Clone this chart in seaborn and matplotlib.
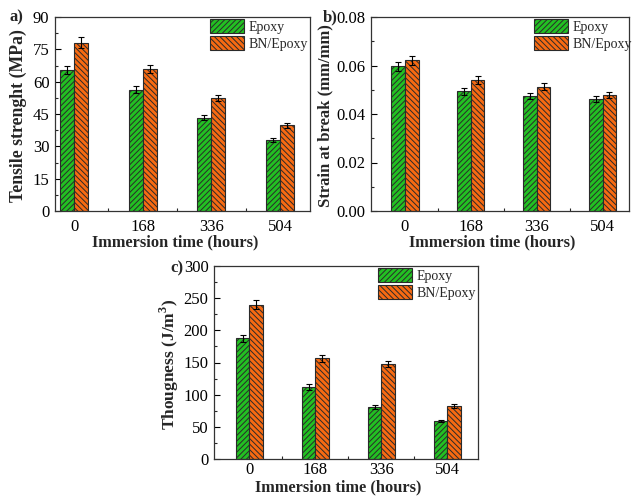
import numpy as np
import pandas as pd
import matplotlib
matplotlib.use("Agg")
import matplotlib.pyplot as plt
from matplotlib.ticker import MultipleLocator, FixedLocator, FormatStrFormatter
import seaborn as sns

# ---------------- data ----------------
times = ["0", "168", "336", "504"]
series_names = ["Epoxy", "BN/Epoxy"]

tensile_epoxy = [65.5, 56.3, 43.2, 32.9]
tensile_epoxy_err = [2.0, 1.7, 1.2, 1.0]
tensile_bn = [78.0, 65.8, 52.4, 39.7]
tensile_bn_err = [2.5, 2.0, 1.5, 1.2]

strain_epoxy = [0.0596, 0.0494, 0.0474, 0.0463]
strain_epoxy_err = [0.0018, 0.0015, 0.0013, 0.0012]
strain_bn = [0.0621, 0.0540, 0.0512, 0.0478]
strain_bn_err = [0.0018, 0.0015, 0.0015, 0.0013]

tough_epoxy = [187.5, 112.0, 80.5, 59.2]
tough_epoxy_err = [6.0, 4.0, 3.0, 2.0]
tough_bn = [240.0, 156.5, 147.6, 82.0]
tough_bn_err = [7.0, 5.0, 5.0, 3.0]

# ---------------- style ----------------
sns.set_theme(style="white")
plt.rcParams["font.family"] = ["Liberation Serif", "DejaVu Serif"]
plt.rcParams["mathtext.fontset"] = "custom"
plt.rcParams["mathtext.rm"] = "Liberation Serif"
plt.rcParams["mathtext.bf"] = "Liberation Serif:bold"
plt.rcParams["hatch.linewidth"] = 0.7
plt.rcParams["axes.edgecolor"] = "#333333"

GREEN = "#22c022"
ORANGE = "#f76a12"
EDGE = "#2a2a2a"

fig = plt.figure(figsize=(6.4, 4.96), dpi=100)
W, H = 640.0, 496.0


def make_ax(left, top, right, bottom):
    return fig.add_axes([left / W, 1 - bottom / H, (right - left) / W, (bottom - top) / H])


def panel(ax, e, e_err, b, b_err, ylim, major, minor, ylabel, ylab_size, xlim, ylab_x,
          tag, tag_xy, leg_x=1.0, xlab_y=-0.12, xpad=6, fmt=None):
    df = pd.DataFrame({
        "time": times * 2,
        "value": list(e) + list(b),
        "series": [series_names[0]] * len(times) + [series_names[1]] * len(times),
    })
    sns.barplot(data=df, x="time", y="value", hue="series", order=times,
                hue_order=series_names, palette=[GREEN, ORANGE], width=0.41,
                edgecolor=EDGE, linewidth=0.8, errorbar=None, ax=ax, legend=False,
                saturation=1)
    hatches = ["//////", "\\\\\\\\\\\\"]
    errs = [e_err, b_err]
    for cont, h, er in zip(ax.containers, hatches, errs):
        xs, ys = [], []
        for bar in cont:
            bar.set_hatch(h)
            xs.append(bar.get_x() + bar.get_width() / 2)
            ys.append(bar.get_height())
        ax.errorbar(xs, ys, yerr=er, fmt="none", ecolor="black", elinewidth=0.8,
                    capsize=2.2, capthick=0.8, zorder=5)
    ax.set_ylim(*ylim)
    ax.set_xlim(*xlim)
    ax.yaxis.set_major_locator(MultipleLocator(major))
    ax.yaxis.set_minor_locator(MultipleLocator(minor))
    ax.xaxis.set_minor_locator(FixedLocator([0.5, 1.5, 2.5]))
    if fmt:
        ax.yaxis.set_major_formatter(FormatStrFormatter(fmt))
    ax.tick_params(axis="both", which="major", direction="in", length=4, width=0.8,
                   labelsize=12, colors="black", left=True, bottom=True)
    ax.tick_params(axis="both", which="minor", direction="in", length=2.5, width=0.8,
                   left=True, bottom=True)
    ax.tick_params(axis="x", which="major", pad=xpad)
    ax.tick_params(axis="y", which="major", pad=4)
    for s in ax.spines.values():
        s.set_linewidth(0.9)
        s.set_color("#333333")
    ax.set_xlabel("Immersion time (hours)", fontsize=11.8, fontweight="bold")
    ax.set_ylabel(ylabel, fontsize=ylab_size, fontweight="bold")
    ax.yaxis.set_label_coords(ylab_x, 0.49)
    ax.xaxis.set_label_coords(0.47, xlab_y)
    ax.legend(handles=list(ax.containers[:2]), labels=series_names, loc="upper right",
              bbox_to_anchor=(leg_x, 1.0), frameon=False, fontsize=10,
              handlelength=2.4, handleheight=1.2, handletextpad=0.35,
              labelspacing=0.15, borderpad=0.1, borderaxespad=0.05)
    fig.text(tag_xy[0] / W, 1 - tag_xy[1] / H, tag, fontsize=12, fontweight="bold",
             ha="left", va="center")


ax_a = make_ax(55, 17, 310, 211)
panel(ax_a, tensile_epoxy, tensile_epoxy_err, tensile_bn, tensile_bn_err,
      (0, 90), 15, 7.5, "Tensile strenght (MPa)", 12.8, (-0.277, 3.437), -0.11,
      "a)", (9, 17))

ax_b = make_ax(371, 17, 629, 211)
panel(ax_b, strain_epoxy, strain_epoxy_err, strain_bn, strain_bn_err,
      (0, 0.08), 0.02, 0.01, "Strain at break (mm/mm)", 12.0, (-0.516, 3.40), -0.147,
      "b)", (323, 17), leg_x=1.02, fmt="%.2f")

ax_c = make_ax(214, 266, 478, 459)
panel(ax_c, tough_epoxy, tough_epoxy_err, tough_bn, tough_bn_err,
      (0, 300), 50, 25, r"Thougness (J/m$^\mathbf{3}$)", 12.5, (-0.535, 3.465), -0.125,
      "c)", (170, 268), xlab_y=-0.105, xpad=2)

fig.savefig("out.png", dpi=100)
